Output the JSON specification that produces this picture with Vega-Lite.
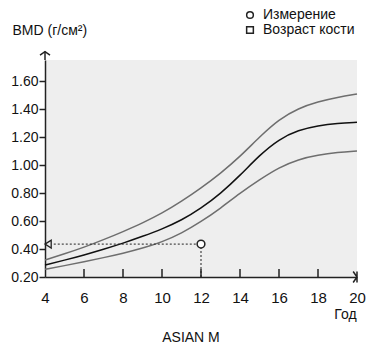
{
  "$schema": "https://vega.github.io/schema/vega-lite/v6.json",
  "autosize": "none",
  "width": 312,
  "height": 217,
  "padding": {"left": 45, "top": 60, "right": 16, "bottom": 68},
  "background": "white",
  "config": {
    "view": {"fill": "#eeeeee", "stroke": null},
    "font": "Liberation Sans",
    "axis": {"labelFont": "Liberation Sans", "titleFont": "Liberation Sans", "grid": false, "labelOverlap": false}
  },
  "title": {"text": "ASIAN M", "orient": "bottom", "fontSize": 14, "fontWeight": "normal", "color": "#111", "font": "Liberation Sans", "dx": -10, "offset": 10},
  "datasets": {
    "curves": [
      {"age": 4, "bmd": 0.321, "curve": "upper"}, {"age": 5, "bmd": 0.365, "curve": "upper"}, {"age": 6, "bmd": 0.412, "curve": "upper"},
      {"age": 7, "bmd": 0.466, "curve": "upper"}, {"age": 8, "bmd": 0.524, "curve": "upper"}, {"age": 9, "bmd": 0.585, "curve": "upper"},
      {"age": 10, "bmd": 0.655, "curve": "upper"}, {"age": 11, "bmd": 0.74, "curve": "upper"}, {"age": 12, "bmd": 0.835, "curve": "upper"},
      {"age": 13, "bmd": 0.94, "curve": "upper"}, {"age": 14, "bmd": 1.06, "curve": "upper"}, {"age": 15, "bmd": 1.2, "curve": "upper"},
      {"age": 16, "bmd": 1.326, "curve": "upper"}, {"age": 17, "bmd": 1.405, "curve": "upper"}, {"age": 18, "bmd": 1.452, "curve": "upper"},
      {"age": 19, "bmd": 1.483, "curve": "upper"}, {"age": 20, "bmd": 1.507, "curve": "upper"},
      {"age": 4, "bmd": 0.286, "curve": "mean"}, {"age": 5, "bmd": 0.32, "curve": "mean"}, {"age": 6, "bmd": 0.357, "curve": "mean"},
      {"age": 7, "bmd": 0.398, "curve": "mean"}, {"age": 8, "bmd": 0.441, "curve": "mean"}, {"age": 9, "bmd": 0.49, "curve": "mean"},
      {"age": 10, "bmd": 0.542, "curve": "mean"}, {"age": 11, "bmd": 0.605, "curve": "mean"}, {"age": 12, "bmd": 0.69, "curve": "mean"},
      {"age": 13, "bmd": 0.795, "curve": "mean"}, {"age": 14, "bmd": 0.925, "curve": "mean"}, {"age": 15, "bmd": 1.07, "curve": "mean"},
      {"age": 16, "bmd": 1.185, "curve": "mean"}, {"age": 17, "bmd": 1.25, "curve": "mean"}, {"age": 18, "bmd": 1.281, "curve": "mean"},
      {"age": 19, "bmd": 1.298, "curve": "mean"}, {"age": 20, "bmd": 1.305, "curve": "mean"},
      {"age": 4, "bmd": 0.255, "curve": "lower"}, {"age": 5, "bmd": 0.281, "curve": "lower"}, {"age": 6, "bmd": 0.309, "curve": "lower"},
      {"age": 7, "bmd": 0.338, "curve": "lower"}, {"age": 8, "bmd": 0.369, "curve": "lower"}, {"age": 9, "bmd": 0.405, "curve": "lower"},
      {"age": 10, "bmd": 0.45, "curve": "lower"}, {"age": 11, "bmd": 0.512, "curve": "lower"}, {"age": 12, "bmd": 0.595, "curve": "lower"},
      {"age": 13, "bmd": 0.69, "curve": "lower"}, {"age": 14, "bmd": 0.8, "curve": "lower"}, {"age": 15, "bmd": 0.895, "curve": "lower"},
      {"age": 16, "bmd": 0.983, "curve": "lower"}, {"age": 17, "bmd": 1.041, "curve": "lower"}, {"age": 18, "bmd": 1.071, "curve": "lower"},
      {"age": 19, "bmd": 1.09, "curve": "lower"}, {"age": 20, "bmd": 1.1, "curve": "lower"}
    ],
    "measure": [{"age": 12, "bmd": 0.435, "type": "Измерение"}],
    "hguide": [{"age": 4.45, "age2": 11.8, "bmd": 0.435}],
    "vguide": [{"age": 12, "bmd": 0.2, "bmd2": 0.41}],
    "yarrow": [{"age": 4, "bmd": 1.75, "bmd2": 1.81}],
    "yhead": [{"age": 4, "bmd": 1.81}],
    "xhead": [{"age": 20, "bmd": 0.2}],
    "tri": [{"age": 4, "bmd": 0.435}],
    "xticks": [
      {"age": 6, "bmd": 0.2, "bmd2": 0.258}, {"age": 8, "bmd": 0.2, "bmd2": 0.258}, {"age": 10, "bmd": 0.2, "bmd2": 0.258},
      {"age": 12, "bmd": 0.2, "bmd2": 0.258}, {"age": 14, "bmd": 0.2, "bmd2": 0.258}, {"age": 16, "bmd": 0.2, "bmd2": 0.258},
      {"age": 18, "bmd": 0.2, "bmd2": 0.258}
    ]
  },
  "encoding": {
    "x": {"field": "age", "type": "quantitative",
      "scale": {"domain": [4, 20], "nice": false, "zero": false},
      "axis": {"values": [4, 6, 8, 10, 12, 14, 16, 18, 20], "title": "Год", "titleFontSize": 14, "titleFontWeight": "normal", "titleColor": "#111",
        "titleX": 300, "titleY": 37, "titleAlign": "center", "titleBaseline": "middle",
        "labelFontSize": 15, "labelColor": "#111", "ticks": false, "domainColor": "#222", "domainWidth": 1.5,
        "labelPadding": 13, "labelFlush": false, "labelOverlap": false}},
    "y": {"field": "bmd", "type": "quantitative",
      "scale": {"domain": [0.2, 1.75], "nice": false, "zero": false},
      "axis": {"values": [0.2, 0.4, 0.6, 0.8, 1.0, 1.2, 1.4, 1.6], "format": ".2f", "title": "BMD (г/см²)", "titleAngle": 0,
        "titleAlign": "left", "titleBaseline": "middle", "titleX": -33, "titleY": -30, "titleFontSize": 14, "titleFontWeight": "normal", "titleColor": "#111",
        "labelFontSize": 14, "labelColor": "#111", "tickSize": 6, "tickColor": "#222", "tickWidth": 1.5, "domainColor": "#222", "domainWidth": 1.5,
        "labelPadding": 1, "labelFlush": false, "labelOverlap": false}}
  },
  "layer": [
    {
      "data": {"name": "curves"},
      "mark": {"type": "line", "interpolate": "basis", "strokeWidth": 1.5},
      "encoding": {
        "detail": {"field": "curve"},
        "color": {"field": "curve", "type": "nominal", "scale": {"domain": ["upper", "mean", "lower"], "range": ["#6e6e6e", "#111111", "#6e6e6e"]}, "legend": null}
      }
    },
    {
      "data": {"name": "xticks"},
      "mark": {"type": "rule", "color": "#222", "strokeWidth": 1.5},
      "encoding": {"y2": {"field": "bmd2"}}
    },
    {
      "data": {"name": "hguide"},
      "mark": {"type": "rule", "strokeDash": [2, 2], "color": "#222", "strokeWidth": 1},
      "encoding": {"x2": {"field": "age2"}}
    },
    {
      "data": {"name": "vguide"},
      "mark": {"type": "rule", "strokeDash": [2, 2], "color": "#222", "strokeWidth": 1},
      "encoding": {"y2": {"field": "bmd2"}}
    },
    {
      "data": {"name": "yarrow"},
      "mark": {"type": "rule", "color": "#222", "strokeWidth": 1.5},
      "encoding": {"y2": {"field": "bmd2"}}
    },
    {
      "data": {"name": "yhead"},
      "mark": {"type": "point", "shape": "M-1,0.7L0,0L1,0.7", "filled": false, "stroke": "#222", "strokeWidth": 1.5, "size": 100, "opacity": 1},
      "encoding": {}
    },
    {
      "data": {"name": "xhead"},
      "mark": {"type": "point", "shape": "M-0.7,-1L0,0L-0.7,1M0,-1L0,1", "filled": false, "stroke": "#222", "strokeWidth": 1.5, "size": 120, "opacity": 1},
      "encoding": {}
    },
    {
      "data": {"name": "tri"},
      "mark": {"type": "point", "shape": "M0,0L1.6,-1L1.6,1Z", "filled": false, "stroke": "#222", "strokeWidth": 1.3, "size": 60, "opacity": 1},
      "encoding": {}
    },
    {
      "data": {"name": "measure"},
      "mark": {"type": "point", "filled": false, "fill": "white", "stroke": "#222", "strokeWidth": 1.5, "size": 60, "opacity": 1, "fillOpacity": 1},
      "encoding": {
        "shape": {"field": "type", "type": "nominal",
          "scale": {"domain": ["Измерение", "Возраст кости"], "range": ["circle", "square"]},
          "legend": {"title": null, "orient": "none", "legendX": 198, "legendY": -52, "labelFontSize": 14, "labelColor": "#111", "labelFont": "Liberation Sans",
            "symbolSize": 45, "rowPadding": 1, "labelOffset": 6,
            "encode": {"symbols": {"update": {"stroke": {"value": "#222"}, "fill": {"value": "white"}, "strokeWidth": {"value": 1.2}, "opacity": {"value": 1}, "fillOpacity": {"value": 1}, "strokeOpacity": {"value": 1}}}}}}
      }
    }
  ]
}
